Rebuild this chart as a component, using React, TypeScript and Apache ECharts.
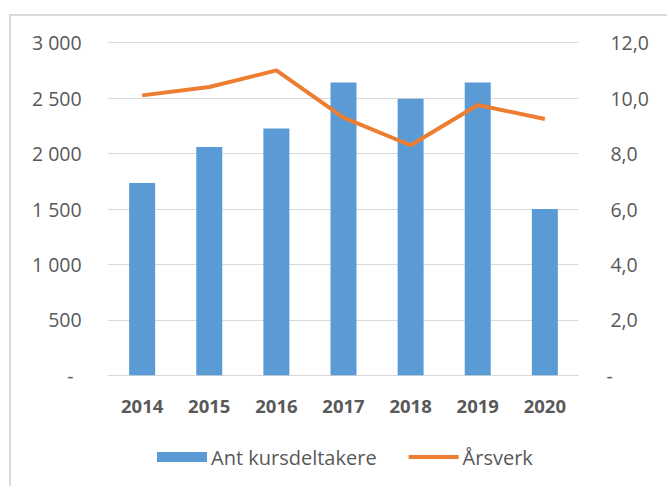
import React, { useEffect, useRef } from "react";
import * as echarts from "echarts";

const years = ["2014", "2015", "2016", "2017", "2018", "2019", "2020"];
const participants = [1735, 2060, 2225, 2640, 2495, 2640, 1500];
const fte = [10.1, 10.4, 11.0, 9.3, 8.3, 9.75, 9.25];

const FONT = "Open Sans";
const TEXT = "#595959";

function fmtLeft(v: number): string {
  if (v === 0) return "{d|-}";
  if (v >= 1000) {
    const th = Math.floor(v / 1000);
    const rest = String(v % 1000).padStart(3, "0");
    return `${th} ${rest}`;
  }
  return String(v);
}

function fmtRight(v: number): string {
  if (v === 0) return "-";
  return "{n|" + v.toFixed(1).replace(".", ",") + "}";
}

export default function App() {
  const ref = useRef<HTMLDivElement>(null);
  useEffect(() => {
    if (!ref.current) return;
    const chart = echarts.init(ref.current, undefined, { renderer: "svg" });
    chart.setOption({
      animation: false,
      backgroundColor: "#ffffff",
      textStyle: { fontFamily: FONT, color: TEXT },
      graphic: [
        {
          type: "rect",
          shape: { x: 10, y: 15, width: 700, height: 520 },
          style: { fill: "none", stroke: "#d9d9d9", lineWidth: 2 },
          silent: true,
          z: -1,
        },
      ],
      grid: { left: 108.6, right: 88.6, top: 42.7, bottom: 110.7, containLabel: false },
      legend: {
        top: 442,
        left: 152,
        itemWidth: 50,
        itemHeight: 10,
        itemGap: 30,
        textStyle: { fontFamily: FONT, fontSize: 20, color: TEXT, padding: [0, 0, 0, -1] },
        data: [
          { name: "Ant kursdeltakere", icon: "rect" },
          { name: "Årsverk", itemStyle: { opacity: 0 }, lineStyle: { width: 4, color: "#ed7d31" } },
        ],
      },
      xAxis: {
        type: "category",
        data: years,
        boundaryGap: true,
        axisTick: { show: false },
        axisLine: { show: true, lineStyle: { color: "#d9d9d9", width: 1 } },
        axisLabel: {
          fontFamily: FONT,
          fontSize: 18.5,
          fontWeight: "bold",
          color: TEXT,
          margin: 21,
        },
      },
      yAxis: [
        {
          type: "value",
          min: 0,
          max: 3000,
          interval: 500,
          axisLine: { show: false },
          axisTick: { show: false },
          splitLine: { lineStyle: { color: "#d9d9d9", width: 1 } },
          axisLabel: {
            fontFamily: FONT,
            fontSize: 19.5,
            color: TEXT,
            margin: 27,
            formatter: fmtLeft,
            rich: { d: { fontFamily: FONT, fontSize: 19.5, color: TEXT, padding: [0, 8, 0, 0] } },
          },
        },
        {
          type: "value",
          min: 0,
          max: 12,
          interval: 2,
          axisLine: { show: false },
          axisTick: { show: false },
          splitLine: { show: false },
          axisLabel: {
            fontFamily: FONT,
            fontSize: 19.5,
            color: TEXT,
            margin: 28,
            formatter: fmtRight,
            rich: { n: { fontFamily: FONT, fontSize: 19.5, color: TEXT, padding: [0, 0, 0, 4] } },
          },
        },
      ],
      series: [
        {
          name: "Ant kursdeltakere",
          type: "bar",
          data: participants,
          barWidth: 26,
          itemStyle: { color: "#5b9bd5" },
          yAxisIndex: 0,
        },
        {
          name: "Årsverk",
          type: "line",
          data: fte,
          yAxisIndex: 1,
          symbol: "none",
          lineStyle: { color: "#ed7d31", width: 4 },
          itemStyle: { color: "#ed7d31" },
        },
      ],
    });
    return () => chart.dispose();
  }, []);
  return (
    <div
      ref={ref}
      style={{ position: "absolute", left: 0, top: 0, width: 667, height: 486 }}
    />
  );
}
